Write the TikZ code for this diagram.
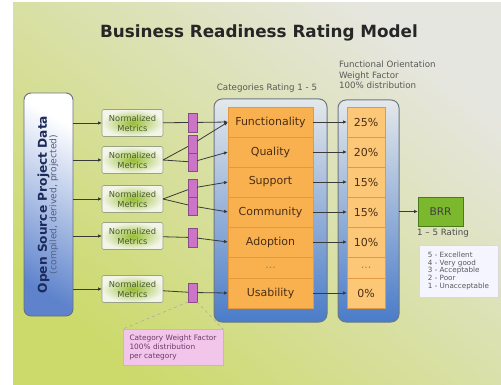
\documentclass[tikz,border=0pt]{standalone}
\usepackage{fontspec}
\setmainfont{DejaVu Sans}
\usetikzlibrary{positioning, arrows.meta}

\definecolor{bggreen}{HTML}{CCDA6C}
\definecolor{bggrey}{HTML}{E6E6E0}
\definecolor{srcblue}{HTML}{5E83CC}
\definecolor{srcline}{HTML}{6A6F78}
\definecolor{srctext}{HTML}{1C2A5A}
\definecolor{metricgreen}{HTML}{98BE32}
\definecolor{metricwhite}{HTML}{F3F5E8}
\definecolor{metricline}{HTML}{9AA286}
\definecolor{metrictext}{HTML}{4A5A30}
\definecolor{wpink}{HTML}{CC74C8}
\definecolor{wline}{HTML}{8A4A88}
\definecolor{notepink}{HTML}{F2C6EA}
\definecolor{noteline}{HTML}{DCA8D4}
\definecolor{notetext}{HTML}{6A3A6A}
\definecolor{coltop}{HTML}{E4E8EA}
\definecolor{colblue}{HTML}{4A7CC8}
\definecolor{colline}{HTML}{6E7882}
\definecolor{catorange}{HTML}{F9B150}
\definecolor{pctorange}{HTML}{FCC878}
\definecolor{rowline}{HTML}{E39A3E}
\definecolor{cattext}{HTML}{4A2E14}
\definecolor{brrgreen}{HTML}{7CB82E}
\definecolor{brrline}{HTML}{4A7A20}
\definecolor{linegrey}{HTML}{3A3A3A}

\begin{document}
\begin{tikzpicture}[
    x=1pt, y=-1pt,
    >={Latex[length=4pt,width=3.5pt]},
    every node/.style={font=\fontsize{8.7}{10.5}\selectfont, align=center, inner sep=0pt, outer sep=0pt},
    srcbox/.style={
        draw=srcline, rounded corners=7pt, line width=0.9pt,
        top color=white, bottom color=srcblue, shading angle=-30,
        minimum width=49pt, minimum height=223pt, text=srctext
    },
    metric/.style={
        draw=metricline, line width=0.6pt, rounded corners=1.5pt,
        inner color=metricgreen, outer color=metricwhite,
        minimum width=61pt, minimum height=27pt, text=metrictext, font=\fontsize{8.3}{10}\selectfont
    },
    wbar/.style={draw=wline, fill=wpink, line width=0.5pt, minimum width=9pt, minimum height=#1},
    wbar/.default=19pt,
    column/.style={
        draw=colline, rounded corners=8pt, line width=1pt,
        top color=coltop, bottom color=colblue
    },
    cat/.style={
        draw=rowline, fill=catorange, line width=0.5pt, minimum width=85pt, minimum height=30pt,
        text=cattext, font=\fontsize{11}{13}\selectfont
    },
    pct/.style={cat, fill=pctorange, minimum width=38pt},
    line/.style={draw=linegrey, line width=0.8pt},
    arr/.style={line, ->},
    dashline/.style={draw=gray!70, dashed, line width=0.5pt}
]
\useasboundingbox (0,0) rectangle (501,385);

% background
\fill[white] (0,0) rectangle (501,385);
\shade[top color=bggrey, bottom color=bggreen, shading angle=-40] (13,3) rectangle (501,385);

\node[font=\bfseries\fontsize{16.8}{19}\selectfont, text=black!85] (title) at (259,33) {Business Readiness Rating Model};

% --- source data ---
\node[srcbox] (src) at (48.5,204.5) {\rotatebox{90}{\begin{tabular}{@{}c@{}}
    {\bfseries\fontsize{12.2}{13}\selectfont Open Source Project Data}\\[-1pt]
    {\color{srctext!75}\fontsize{9.2}{11}\selectfont (compiled, derived, projected)}
    \end{tabular}}};

% --- normalized metrics ---
\node[metric] (nm1) at (132.5,123) {Normalized\\Metrics};
\node[metric] (nm2) at (132.5,160) {Normalized\\Metrics};
\node[metric] (nm3) at (132.5,199) {Normalized\\Metrics};
\node[metric] (nm4) at (132.5,236) {Normalized\\Metrics};
\node[metric] (nm5) at (132.5,289) {Normalized\\Metrics};

% --- category weight bars ---
\node[wbar] (w1) at (192.5,122.5) {};
\node[wbar=18pt] (w2a) at (192.5,144) {};
\node[wbar=18pt, below=0pt of w2a] (w2b) {};
\node[wbar=18pt] (w3a) at (192.5,188) {};
\node[wbar=18pt, below=0pt of w3a] (w3b) {};
\node[wbar] (w4) at (192.5,237.5) {};
\node[wbar] (w5) at (192.5,292.5) {};

% --- categories ---
\node[column, minimum width=113pt, minimum height=223pt] (catbox) at (270.5,210.5) {};
\node[cat] (func) at (270.5,122) {Functionality};
\node[cat, below=0pt of func] (qual) {Quality};
\node[cat, below=0pt of qual] (supp) {Support};
\node[cat, below=0pt of supp] (comm) {Community};
\node[cat, below=0pt of comm] (adop) {Adoption};
\node[cat, below=0pt of adop, minimum height=21pt, text=cattext!60] (cdots) {...};
\node[cat, below=0pt of cdots] (usab) {Usability};
\node[text=black!65] (catlabel) at (267,88) {Categories Rating 1 - 5};

% --- weight factors ---
\node[column, minimum width=61pt, minimum height=222pt] (pctbox) at (368.5,211) {};
\node[pct] (p1) at (366,122) {25\%};
\node[pct, below=0pt of p1] (p2) {20\%};
\node[pct, below=0pt of p2] (p3) {15\%};
\node[pct, below=0pt of p3] (p4) {15\%};
\node[pct, below=0pt of p4] (p5) {10\%};
\node[pct, below=0pt of p5, minimum height=21pt, text=cattext!60] (p6) {...};
\node[pct, below=0pt of p6] (p7) {0\%};
\node[anchor=north west, align=left, text=black!65] (wflabel) at (339,61)
    {Functional Orientation\\Weight Factor\\100\% distribution};

% --- result ---
\node[draw=brrline, fill=brrgreen, line width=0.6pt, minimum width=45pt, minimum height=29pt,
    font=\fontsize{10.6}{12}\selectfont, text=black!75] (brr) at (440.5,211.5) {BRR};
\node[text=black!70] (rating) at (443,233) {1 – 5 Rating};
\node[draw=black!15, fill=blue!4, minimum width=79pt, minimum height=52pt, align=left,
    font=\fontsize{7.2}{7.7}\selectfont, text=black!65] (scale) at (458.5,271)
    {5 - Excellent\\4 - Very good\\3 - Acceptable\\2 - Poor\\1 - Unacceptable};

% --- callout ---
\node[draw=noteline, fill=notepink, minimum width=100pt, minimum height=36pt, align=left,
    font=\fontsize{7.4}{9}\selectfont, text=notetext] (note) at (173,347)
    {Category Weight Factor\\100\% distribution\\per category};
\draw[dashline] (w5.south west) -- (note.north west);
\draw[dashline] (w5.south east) -- (note.north east);

% --- connections ---
\foreach \m in {nm1,nm2,nm3,nm4,nm5}
    \draw[arr] (src.east |- \m) -- (\m);

\draw[line] (nm1) -- (w1);
\draw[arr] (w1) -- (func.west);
\draw[line] (nm2.east) -- (w2a);
\draw[line] (nm2.east) -- (w2b);
\draw[arr] (w2a) -- (func.west);
\draw[arr] (w2b) -- (qual.west);
\draw[line] (nm3.east) -- (w3a);
\draw[line] (nm3.east) -- (w3b);
\draw[arr] (w3a) -- (supp.west);
\draw[arr] (w3b) -- (comm.west);
\draw[line] (nm4) -- (w4);
\draw[arr] (w4) -- (adop.west);
\draw[line] (nm5) -- (w5);
\draw[arr] (w5) -- (usab.west);

\draw[arr] (func) -- (p1);
\draw[arr] (qual) -- (p2);
\draw[arr] (supp) -- (p3);
\draw[arr] (comm) -- (p4);
\draw[arr] (adop) -- (p5);
\draw[arr] (usab) -- (p7);

\draw[arr] (pctbox.east |- brr) -- (brr);

\end{tikzpicture}
\end{document}
